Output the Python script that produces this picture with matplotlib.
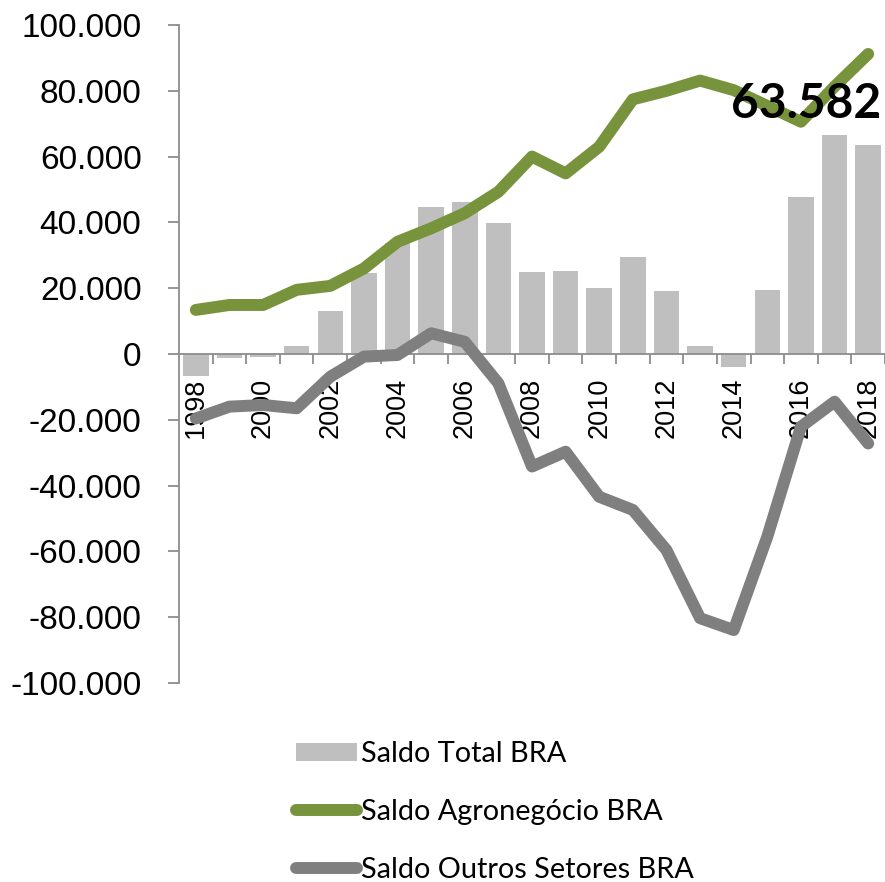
import matplotlib
matplotlib.use("Agg")
import matplotlib.pyplot as plt
from matplotlib.ticker import FuncFormatter, FixedLocator
import numpy as np

years = list(range(1998, 2019))
saldo_total = [-6.7, -1.3, -0.8, 2.5, 13.1, 24.7, 33.7, 44.7, 46.3, 39.9, 24.9,
               25.1, 20.1, 29.6, 19.1, 2.3, -4.0, 19.5, 47.6, 66.7, 63.6]
saldo_agro = [13.4, 14.9, 14.9, 19.5, 20.7, 26.0, 34.1, 38.2, 42.8, 49.3, 60.0,
              54.9, 63.0, 77.4, 80.0, 83.1, 80.2, 75.4, 70.6, 81.3, 91.2]
saldo_outros = [-19.6, -16.0, -15.5, -16.5, -6.9, -0.8, -0.3, 6.3, 3.7, -8.9, -34.2,
                -29.7, -43.4, -47.4, -59.6, -80.3, -83.9, -55.5, -22.1, -14.5, -27.2]
label_text = "63.582"
series_names = ["Saldo Total BRA", "Saldo Agronegócio BRA", "Saldo Outros Setores BRA"]

tot = np.array(saldo_total) * 1000
agro = np.array(saldo_agro) * 1000
outros = np.array(saldo_outros) * 1000
x = np.arange(len(years))

fig = plt.figure(figsize=(8.85, 8.82), dpi=100)
ax = fig.add_axes([179/885, 1-683/882, 1-179/885, (683-25)/882])

grey_axis = "#8C8C8C"
h_bar = ax.bar(x, tot, width=0.76, color="#BFBFBF", zorder=2, label=series_names[0])
h_agro, = ax.plot(x, agro, color="#77933C", lw=8.6, solid_capstyle="round",
                  solid_joinstyle="round", zorder=3, label=series_names[1])
h_out, = ax.plot(x, outros, color="#7F7F7F", lw=8.6, solid_capstyle="round",
                 solid_joinstyle="round", zorder=3, label=series_names[2])

ax.set_xlim(-0.5, len(years) - 0.5)
ax.set_ylim(-100000, 100000)

for s in ["top", "right"]:
    ax.spines[s].set_visible(False)
ax.spines["left"].set_color(grey_axis)
ax.spines["left"].set_linewidth(1.3)
ax.spines["bottom"].set_position(("data", 0))
ax.spines["bottom"].set_color(grey_axis)
ax.spines["bottom"].set_linewidth(1.3)

ax.yaxis.set_major_locator(FixedLocator(np.arange(-100000, 100001, 20000)))
ax.yaxis.set_major_formatter(FuncFormatter(lambda v, p: f"{int(v):,}".replace(",", ".")))
ax.tick_params(axis="y", length=8, width=1.3, color=grey_axis, pad=19,
               labelsize=24)
for t in ax.get_yticklabels():
    t.set_fontfamily("Liberation Sans")

ax.set_xticks(x[::2])
ax.set_xticklabels([str(y) for y in years[::2]], rotation=90, fontsize=19.5,
                   fontfamily="Liberation Sans", va="top")
ax.set_xticks(np.arange(0.5, len(years), 1.0), minor=True)
ax.tick_params(axis="x", which="major", length=0, pad=17)
ax.tick_params(axis="x", which="minor", length=7, width=1.3, color=grey_axis, direction="out")

ax.text(len(years) - 1 + 0.38, 76000, label_text, ha="right", va="center",
        fontsize=34.5, fontweight="bold", fontfamily="Lato", color="black", zorder=5)

leg = fig.legend(handles=[h_bar, h_agro, h_out], labels=series_names,
                 loc="upper left", bbox_to_anchor=(296/885, 1-741/882),
                 frameon=False, borderpad=0, borderaxespad=0,
                 handlelength=2.1, handleheight=0.6, handletextpad=0.15, labelspacing=1.1,
                 prop={"family": "Lato", "size": 20.8})

fig.savefig("out.png", dpi=100)
